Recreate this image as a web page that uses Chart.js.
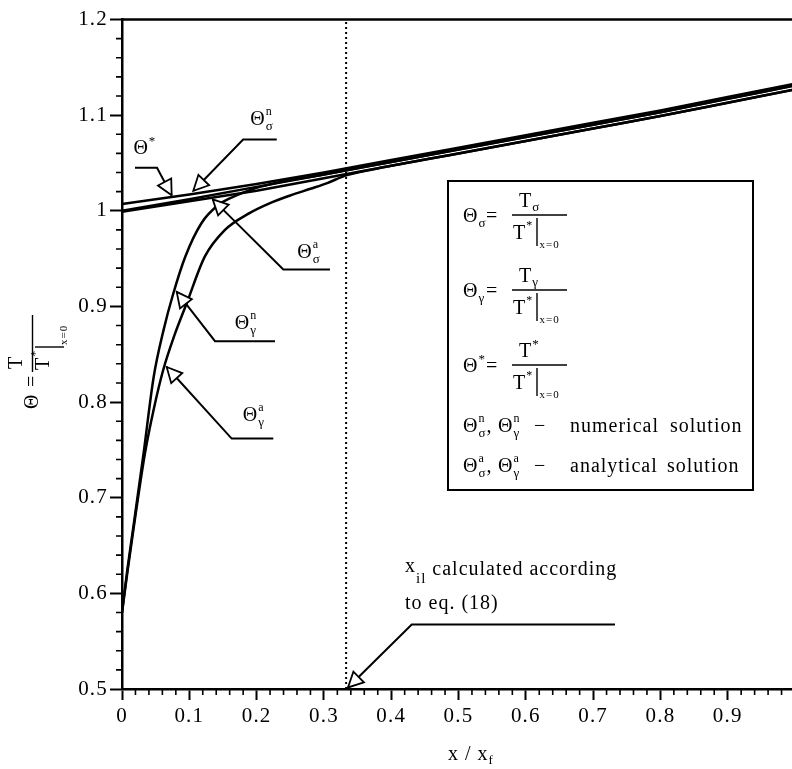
<!DOCTYPE html>
<html>
<head>
<meta charset="utf-8">
<script src="https://cdn.jsdelivr.net/npm/chart.js@4.4.0/dist/chart.umd.min.js"></script>
<style>
html,body{margin:0;padding:0;background:#fff;}
#c{display:block;}
</style>
</head>
<body>
<canvas id="c" width="792" height="769" style="width:792px;height:769px"></canvas>
<script>
// ---------------- data ----------------
const xUpper      = [0, 0.1, 0.2, 0.3, 0.4, 0.5, 0.6, 0.7, 0.8, 0.9, 1.0];
const thetaStar   = [1.007, 1.017, 1.028, 1.040, 1.053, 1.066, 1.079, 1.092, 1.105, 1.119, 1.133];
const thetaSigmaN = [1.000, 1.012, 1.025, 1.038, 1.051, 1.064, 1.077, 1.090, 1.103, 1.117, 1.131];
const thetaSigmaA = [0.999, 1.010, 1.021, 1.034, 1.047, 1.060, 1.073, 1.086, 1.099, 1.113, 1.127];

const xGammaN     = [0, 0.008, 0.016, 0.032, 0.047, 0.062, 0.076, 0.094, 0.118, 0.143, 0.17, 0.2, 0.3, 0.4, 0.5, 0.6, 0.7, 0.8, 0.9, 1.0];
const thetaGammaN = [0.580, 0.625, 0.665, 0.746, 0.826, 0.876, 0.913, 0.952, 0.987, 1.006, 1.016, 1.024, 1.038, 1.051, 1.064, 1.077, 1.090, 1.103, 1.117, 1.131];

const xGammaA     = [0, 0.008, 0.016, 0.034, 0.047, 0.061, 0.078, 0.096, 0.123, 0.153, 0.188, 0.22, 0.25, 0.28, 0.305, 0.333, 0.4, 0.5, 0.6, 0.7, 0.8, 0.9, 1.0];
const thetaGammaA = [0.580, 0.622, 0.662, 0.746, 0.792, 0.833, 0.870, 0.903, 0.952, 0.980, 0.997, 1.008, 1.016, 1.023, 1.029, 1.037, 1.047, 1.060, 1.073, 1.086, 1.099, 1.113, 1.127];

const xIl = 0.333;               // x_il position (eq. 18)
const xTickValues = [0, 0.1, 0.2, 0.3, 0.4, 0.5, 0.6, 0.7, 0.8, 0.9];
const yTickValues = [0.5, 0.6, 0.7, 0.8, 0.9, 1.0, 1.1, 1.2];
const xTickLabels = ['0', '0.1', '0.2', '0.3', '0.4', '0.5', '0.6', '0.7', '0.8', '0.9'];
const yTickLabels = ['0.5', '0.6', '0.7', '0.8', '0.9', '1', '1.1', '1.2'];

// ---------------- styling / layout ----------------
const SERIF = "'Liberation Serif', 'Times New Roman', serif";
const PX_PER_UNIT = 673;
const LEFT = 122, TOP = 19.5, XH = 80;
const X_MAX = (792 - LEFT) / PX_PER_UNIT;

function pts(xs, ys) { return xs.map((x, i) => ({x: x, y: ys[i]})); }
function lineDs(data, extra) {
  return Object.assign({data: data, showLine: true, borderColor: '#000', backgroundColor: '#000',
    borderWidth: 2.5, pointRadius: 0, fill: false, tension: 0}, extra || {});
}

// annotation leader arrows (data coordinates)
const ANNOTS = [
  {label: [['Θ', 20], ['*', 13, -9]], lx: 0.034, ly: 1.066,
   path: [[0.0193, 1.045], [0.052, 1.045], [0.0738, 1.0163]]},
  {label: [['Θ', 20], ['n', 12, -10, true], ['σ', 13, 5]], lx: 0.208, ly: 1.097,
   path: [[0.230, 1.0746], [0.180, 1.0746], [0.106, 1.0209]]},
  {label: [['Θ', 20], ['a', 12, -10, true], ['σ', 13, 5]], lx: 0.278, ly: 0.957,
   path: [[0.309, 0.9387], [0.2397, 0.9387], [0.1348, 1.0119]]},
  {label: [['Θ', 20], ['n', 12, -10, true], ['γ', 13, 5]], lx: 0.184, ly: 0.8836,
   path: [[0.2273, 0.8637], [0.1382, 0.8637], [0.0813, 0.9152]]},
  {label: [['Θ', 20], ['a', 12, -10, true], ['γ', 13, 5]], lx: 0.196, ly: 0.7873,
   path: [[0.2248, 0.7618], [0.163, 0.7618], [0.0664, 0.8367]]},
  {label: null,
   path: [[0.7325, 0.5675], [0.4305, 0.5675], [0.3358, 0.5016]]}
];

function rich(ctx, x, y, runs, draw) {
  let cx = x;
  for (const r of runs) {
    const t = r[0], size = r[1], dy = r[2] || 0, noAdv = r[3] || false;
    ctx.font = size + 'px ' + SERIF;
    if (draw !== false) ctx.fillText(t, cx, y + dy);
    if (!noAdv) cx += ctx.measureText(t).width;
  }
  return cx - x;
}

function arrowHead(ctx, fx, fy, tx, ty) {
  const ang = Math.atan2(ty - fy, tx - fx);
  const L = 15, W = 7.5;
  const bx = tx - L * Math.cos(ang), by = ty - L * Math.sin(ang);
  const nx = -Math.sin(ang), ny = Math.cos(ang);
  ctx.beginPath();
  ctx.moveTo(tx, ty);
  ctx.lineTo(bx + nx * W, by + ny * W);
  ctx.lineTo(bx - nx * W, by - ny * W);
  ctx.closePath();
  ctx.fillStyle = '#fff';
  ctx.fill();
  ctx.stroke();
  ctx.fillStyle = '#000';
}

const decorPlugin = {
  id: 'decor',
  beforeUpdate(chart) { chart.ctx.letterSpacing = '1.2px'; },
  beforeDraw(chart) {
    const ctx = chart.ctx;
    ctx.save();
    ctx.fillStyle = '#fff';
    ctx.fillRect(0, 0, chart.width, chart.height);
    ctx.restore();
    ctx.letterSpacing = '1.2px';
  },
  afterDraw(chart) {
    const ctx = chart.ctx;
    const xs = chart.scales.x, ys = chart.scales.y;
    const ca = chart.chartArea;
    ctx.save();
    ctx.strokeStyle = '#000';
    ctx.fillStyle = '#000';
    ctx.letterSpacing = '1px';
    ctx.textBaseline = 'alphabetic';
    ctx.textAlign = 'left';

    // top frame line
    ctx.lineWidth = 2.5;
    ctx.beginPath(); ctx.moveTo(ca.left - 1, ca.top); ctx.lineTo(ca.right, ca.top); ctx.stroke();

    // minor ticks
    ctx.lineWidth = 1.6;
    ctx.beginPath();
    for (let i = 0; i <= 35; i++) {
      if (i % 5 === 0) continue;
      const py = ys.getPixelForValue(0.5 + i * 0.02);
      ctx.moveTo(ca.left - 6, py); ctx.lineTo(ca.left, py);
    }
    for (let i = 1; i < 50; i++) {
      if (i % 5 === 0) continue;
      const px = xs.getPixelForValue(i * 0.02);
      ctx.moveTo(px, ca.bottom); ctx.lineTo(px, ca.bottom + 6);
    }
    ctx.stroke();

    // annotations
    for (const a of ANNOTS) {
      const p = a.path.map(q => [xs.getPixelForValue(q[0]), ys.getPixelForValue(q[1])]);
      ctx.lineWidth = 2;
      ctx.beginPath();
      ctx.moveTo(p[0][0], p[0][1]);
      for (let i = 1; i < p.length; i++) ctx.lineTo(p[i][0], p[i][1]);
      ctx.stroke();
      ctx.lineWidth = 1.8;
      const n = p.length;
      arrowHead(ctx, p[n - 2][0], p[n - 2][1], p[n - 1][0], p[n - 1][1]);
      if (a.label) {
        const cx = xs.getPixelForValue(a.lx), cy = ys.getPixelForValue(a.ly);
        const w = rich(ctx, 0, 0, a.label, false);
        rich(ctx, cx - w / 2, cy + 6.5, a.label);
      }
    }

    // x_il text
    {
      const tx = xs.getPixelForValue(0.4205);
      rich(ctx, tx, ys.getPixelForValue(0.6225), [['x', 20], ['il', 15, 11], [' calculated according', 20, 3]]);
      rich(ctx, tx, ys.getPixelForValue(0.5835), [['to eq. (18)', 20]]);
    }

    // legend box
    ctx.lineWidth = 2;
    ctx.strokeRect(448, 181, 305, 309);
    const fracRow = (bar, leftRuns, numRuns) => {
      rich(ctx, 463, bar + 7, leftRuns);
      rich(ctx, 486, bar + 7, [['=', 20]]);
      ctx.lineWidth = 1.4;
      ctx.beginPath(); ctx.moveTo(512, bar); ctx.lineTo(567, bar); ctx.stroke();
      rich(ctx, 519, bar - 8, numRuns);
      rich(ctx, 513, bar + 24, [['T', 20], ['*', 12, -10]]);
      ctx.beginPath(); ctx.moveTo(537, bar + 3); ctx.lineTo(537, bar + 31); ctx.stroke();
      rich(ctx, 539.5, bar + 33, [['x=0', 11]]);
    };
    fracRow(215, [['Θ', 20], ['σ', 13, 5]], [['T', 20], ['σ', 13, 4]]);
    fracRow(290, [['Θ', 20], ['γ', 13, 5]], [['T', 20], ['γ', 13, 4]]);
    fracRow(365, [['Θ', 20], ['*', 13, -9]], [['T', 20], ['*', 13, -9]]);
    const descRow = (base, sup, word, x1, x2) => {
      rich(ctx, 463, base, [['Θ', 20], [sup, 12, -10, true], ['σ', 13, 5], [',', 20]]);
      rich(ctx, 498, base, [['Θ', 20], [sup, 12, -10, true], ['γ', 13, 5]]);
      rich(ctx, 534, base, [['−', 20]]);
      rich(ctx, x1, base, [[word, 20]]);
      rich(ctx, x2, base, [['solution', 20]]);
    };
    descRow(432, 'n', 'numerical', 570, 670);
    descRow(472, 'a', 'analytical', 570, 667);

    // x axis title
    rich(ctx, 448, 760, [['x / x', 20], ['f', 13, 4]]);

    // y axis title (rotated)
    ctx.save();
    ctx.translate(0, 409);
    ctx.rotate(-Math.PI / 2);
    rich(ctx, 0, 38, [['Θ', 20]]);
    rich(ctx, 22, 38, [['=', 20]]);
    ctx.lineWidth = 1.4;
    ctx.beginPath(); ctx.moveTo(37, 32.5); ctx.lineTo(94, 32.5); ctx.stroke();
    rich(ctx, 40, 22, [['T', 20]]);
    rich(ctx, 39, 49, [['T', 20], ['*', 12, -10]]);
    ctx.beginPath(); ctx.moveTo(62, 35); ctx.lineTo(62, 64); ctx.stroke();
    rich(ctx, 64, 67, [['x=0', 11]]);
    ctx.restore();

    ctx.restore();
  }
};

const tickFont = {family: SERIF, size: 21};

new Chart(document.getElementById('c'), {
  type: 'scatter',
  data: {
    datasets: [
      lineDs(pts(xUpper, thetaStar)),
      lineDs(pts(xUpper, thetaSigmaN)),
      lineDs(pts(xUpper, thetaSigmaA)),
      lineDs(pts(xGammaN, thetaGammaN), {cubicInterpolationMode: 'monotone'}),
      lineDs(pts(xGammaA, thetaGammaA), {cubicInterpolationMode: 'monotone'}),
      lineDs([{x: xIl, y: yTickValues[0]}, {x: xIl, y: yTickValues[yTickValues.length - 1]}],
             {borderWidth: 2, borderDash: [2, 3]})
    ]
  },
  options: {
    responsive: false,
    animation: false,
    devicePixelRatio: 1,
    layout: {padding: {top: TOP, left: 0, right: 0, bottom: 0}},
    plugins: {legend: {display: false}, tooltip: {enabled: false}},
    scales: {
      x: {
        type: 'linear', min: 0, max: X_MAX,
        afterBuildTicks: s => { s.ticks = xTickValues.map(v => ({value: v})); },
        afterFit: s => { s.height = XH; },
        ticks: {font: tickFont, color: '#000', padding: 4, maxRotation: 0, autoSkip: false,
                callback: (v) => xTickLabels[xTickValues.findIndex(t => Math.abs(t - v) < 1e-9)]},
        grid: {drawOnChartArea: false, drawTicks: true, tickLength: 11, tickWidth: 2, tickColor: '#000'},
        border: {display: true, color: '#000', width: 2.5}
      },
      y: {
        type: 'linear', min: yTickValues[0], max: yTickValues[yTickValues.length - 1],
        afterBuildTicks: s => { s.ticks = yTickValues.map(v => ({value: v})); },
        afterFit: s => { s.width = LEFT; },
        ticks: {font: tickFont, color: '#000', padding: 2, autoSkip: false,
                callback: (v) => yTickLabels[yTickValues.findIndex(t => Math.abs(t - v) < 1e-9)]},
        grid: {drawOnChartArea: false, drawTicks: true, tickLength: 12, tickWidth: 2, tickColor: '#000'},
        border: {display: true, color: '#000', width: 2.5}
      }
    }
  },
  plugins: [decorPlugin]
});
</script>
</body>
</html>
